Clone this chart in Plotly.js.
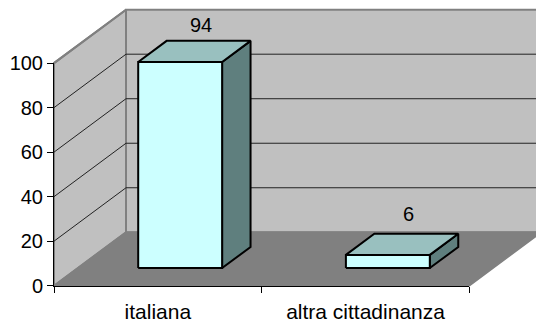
<!DOCTYPE html>
<html>
<head>
<meta charset="utf-8">
<script src="https://cdn.plot.ly/plotly-3.0.1.min.js"></script>
<style>html,body{margin:0;padding:0;background:#fff;overflow:hidden}#c{width:536px;height:322px}</style>
</head>
<body>
<div id="c"></div>
<script>
const categories = ["italiana", "altra cittadinanza"];
const values = [94, 6];
const yTicks = [0, 20, 40, 60, 80, 100];

// oblique projection constants (style / geometry of the 3-D box)
const W = 536, H = 322;
const X0 = 54, Y0 = 285.7, CAT = 207.7, UNIT = 2.226;
const DX = 72 / CAT, DY = 24;
const BAR_W = 0.404, BAR_C = 0.493, D1 = 0.33, D2 = 0.725, BAR_SCALE = 0.985, LABEL_SCALE = 0.965;
const WALL = "#C0C0C0", FLOOR = "#808080", EDGE = "#808080";
const FRONT = "#CCFFFF", TOP = "#99C0BF", SIDE = "#5F7F7E";

const P = (c, v, d) => [c + d * DX, v + d * DY];
const traces = [];
function poly(pts, fill, color, width) {
  const t = {
    x: pts.map(p => p[0]), y: pts.map(p => p[1]),
    xaxis: "x", yaxis: "y", mode: "lines", hoverinfo: "skip", showlegend: false,
    line: {color: color, width: width, shape: "linear"}
  };
  if (fill) { t.fill = "toself"; t.fillcolor = fill; }
  traces.push(t);
}
// walls and floor
poly([P(0,0,1), P(2,0,1), P(2,100,1), P(0,100,1), P(0,0,1)], WALL, EDGE, 2);
poly([P(0,0,0), P(0,0,1), P(0,100,1), P(0,100,0), P(0,0,0)], WALL, EDGE, 2);
poly([P(0,0,0), P(2,0,0), P(2,0,1), P(0,0,1), P(0,0,0)], FLOOR, EDGE, 1.5);
// gridlines
yTicks.slice(1, -1).forEach(v => {
  poly([P(0,v,0), P(0,v,1), P(2,v,1)], null, "#222222", 1);
});
poly([P(0,100,0), P(0,100,1)], null, EDGE, 2);
// bars
values.forEach((val, i) => {
  const a = i + BAR_C - BAR_W / 2, b = i + BAR_C + BAR_W / 2, h = val * BAR_SCALE;
  poly([P(b,0,D1), P(b,0,D2), P(b,h,D2), P(b,h,D1), P(b,0,D1)], SIDE, "#000", 2);
  poly([P(a,h,D1), P(b,h,D1), P(b,h,D2), P(a,h,D2), P(a,h,D1)], TOP, "#000", 2);
  poly([P(a,0,D1), P(b,0,D1), P(b,h,D1), P(a,h,D1), P(a,0,D1)], FRONT, "#000", 2);
});
// axes carrier (category names and value scale)
traces.push({x: categories, y: values, xaxis: "x2", yaxis: "y2", mode: "none", hoverinfo: "skip", showlegend: false});

const font = {family: "Liberation Sans, Arial, sans-serif", size: 20, color: "#000"};
const annotations = values.map((val, i) => {
  const p = P(i + BAR_C, val * LABEL_SCALE, D1 + 0.29);
  return {x: p[0], y: p[1], xref: "x", yref: "y", text: String(val), showarrow: false,
          xanchor: "center", yanchor: "middle", yshift: 25.3, font: font};
});

const layout = {
  width: W, height: H, autosize: false,
  margin: {l: 0, r: 0, t: 0, b: 0, pad: 0},
  paper_bgcolor: "#fff", plot_bgcolor: "rgba(0,0,0,0)",
  showlegend: false, hovermode: false, font: font,
  xaxis: {domain: [0, 1], range: [-X0 / CAT, (W - X0) / CAT], visible: false, fixedrange: true},
  yaxis: {domain: [0, 1], range: [-(H - Y0) / UNIT, Y0 / UNIT], visible: false, fixedrange: true},
  xaxis2: {
    domain: [X0 / W, (X0 + 2 * CAT) / W], anchor: "y2", type: "category",
    categoryorder: "array", categoryarray: categories, range: [-0.5, 1.5],
    tickson: "boundaries", ticks: "outside", ticklen: 6, tickwidth: 1, tickcolor: "#000",
    ticklabelstandoff: 7,
    showline: true, linecolor: "#000", linewidth: 1, showgrid: false, zeroline: false,
    tickfont: Object.assign({}, font, {size: 21}), fixedrange: true
  },
  yaxis2: {
    domain: [(H - Y0) / H, (H - Y0 + 100 * UNIT) / H], anchor: "x2", range: [0, 100],
    tickmode: "array", tickvals: yTicks, ticktext: yTicks.map(String),
    ticks: "outside", ticklen: 6, tickwidth: 1, tickcolor: "#000",
    showline: true, linecolor: "#000", linewidth: 1, showgrid: false, zeroline: false,
    tickfont: font, fixedrange: true
  },
  annotations: annotations
};
Plotly.newPlot("c", traces, layout, {displayModeBar: false, staticPlot: true});
</script>
</body>
</html>
